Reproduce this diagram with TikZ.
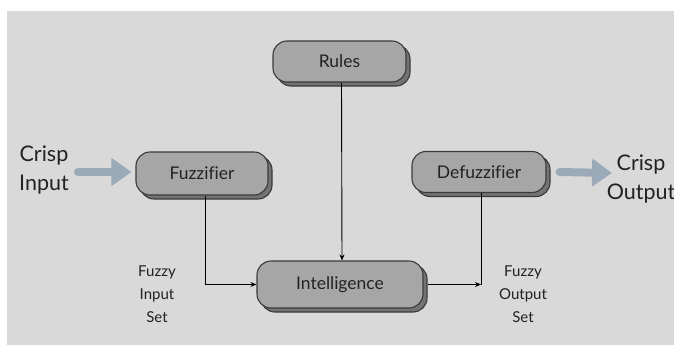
\documentclass[tikz,border=0pt]{standalone}
\usepackage{fontspec}
\setmainfont[Ligatures=NoCommon]{Lato}
\usetikzlibrary{arrows.meta,shadows}
\definecolor{bg}{HTML}{D9D9D9}
\definecolor{boxfill}{HTML}{A6A6A6}
\definecolor{boxline}{HTML}{3A3A3A}
\definecolor{shadowfill}{HTML}{737373}
\definecolor{bigarrow}{HTML}{9BAAB8}
\definecolor{txt}{HTML}{222222}
\begin{document}
\begin{tikzpicture}[x=1pt,y=-1pt,
  block/.style={rounded corners=14pt, fill=boxfill, draw=boxline, line width=1.1pt,
    inner sep=0pt, text=txt, font=\fontsize{17.5}{20}\selectfont,
    drop shadow={shadow xshift=4pt, shadow yshift=-4pt, opacity=1,
      fill=shadowfill, draw=boxline, line width=1.1pt}},
  biglabel/.style={align=center, text=txt, font=\fontsize{21.5}{29}\selectfont, inner sep=0pt},
  smalllabel/.style={align=center, text=txt, font=\fontsize{15}{23}\selectfont, inner sep=0pt},
  conn/.style={line width=0.9pt, black},
  arr/.style={conn, -{Stealth[length=6pt,width=5pt]}},
  fat/.style={line width=8pt, bigarrow, line cap=round, -{Triangle[length=20pt,width=27pt]}}
]
\useasboundingbox (0,0) rectangle (674,345);
\fill[bg] (7,11) rectangle (674,345);

\node[block, minimum width=133pt, minimum height=41pt] (rules) at (339.5,61.5) {Rules};
\node[block, minimum width=132pt, minimum height=43pt] (fuzz) at (202,173.5) {Fuzzifier};
\node[block, minimum width=134pt, minimum height=41pt] (defuzz) at (479,172) {Defuzzifier};
\node[block, minimum width=166pt, minimum height=47pt] (intel) at (340,284.5) {Intelligence};

\node[biglabel] (cin) at (44,170) {Crisp\\Input};
\node[biglabel] (cout) at (641,179) {Crisp\\Output};
\node[smalllabel] (fin) at (157,294) {Fuzzy\\Input\\Set};
\node[smalllabel] (fout) at (523,294) {Fuzzy\\Output\\Set};

\coordinate (inA) at (78,172);
\coordinate (outB) at (612,173);
\draw[fat] (inA) -- ([xshift=-4pt]fuzz.west |- inA);
\draw[fat] ([xshift=13pt]defuzz.east) -- (outB);

\draw[arr] ([xshift=3pt]fuzz.south) |- (intel.west);
\draw[arr] ([xshift=2pt]rules.south) -- ([xshift=2pt]intel.north);
\coordinate (corner) at ([xshift=2pt]defuzz.south |- intel.east);
\draw[conn] ([xshift=2pt]defuzz.south) -- (corner);
\draw[arr] ([xshift=4pt]intel.east) -- (corner);
\end{tikzpicture}
\end{document}
